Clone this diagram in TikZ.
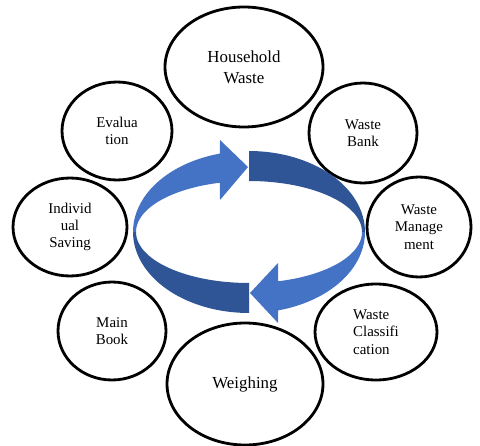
\documentclass[tikz,border=0pt]{standalone}
\usepackage{fontspec}
\setmainfont{Liberation Serif}
\usetikzlibrary{shapes.geometric}
\definecolor{ringlight}{RGB}{68,114,196}
\definecolor{ringdark}{RGB}{47,85,151}
\tikzset{
	bubble/.style={draw, ellipse, line width=1.6pt, inner sep=0pt, align=center,
			font=\fontsize{8.5}{9.8}\selectfont},
	bigbubble/.style={bubble, font=\fontsize{9.6}{12}\selectfont}
}
\begin{document}
\begin{tikzpicture}[x=0.02cm,y=-0.02cm]
		\useasboundingbox (0,0) rectangle (480,446);
		\node[bigbubble, minimum width=3.16cm, minimum height=2.4cm] (household) at (244,67) {Household\\Waste};
		\node[bubble, minimum width=2.16cm, minimum height=2cm] (bank) at (363,133) {Waste\\Bank};
		\node[bubble, minimum width=2.08cm, minimum height=2cm] (management) at (419,227) {Waste\\Manage\\ment};
		\node[bubble, align=left, minimum width=2.44cm, minimum height=1.92cm] (classification) at (376,332) {Waste\\Classifi\\cation};
		\node[bigbubble, minimum width=3.12cm, minimum height=2.44cm] (weighing) at (245,384) {Weighing};
		\node[bubble, minimum width=2.16cm, minimum height=1.96cm] (mainbook) at (112,331) {Main\\Book};
		\node[bubble, minimum width=2.28cm, minimum height=1.96cm] (saving) at (70,227) {Individ\\ual\\Saving};
		\node[bubble, minimum width=2.2cm, minimum height=1.96cm] (evaluation) at (117,131) {Evalua\\tion};
		\fill[ringdark] plot[domain=90:0, samples=40] ({249+116*cos(\x)},{232-81*sin(\x)})
			-- plot[domain=0:90, samples=40] ({249+113*cos(\x)},{232-51*sin(\x)}) -- cycle;
		\fill[ringdark] plot[domain=180:270, samples=40] ({249+116*cos(\x)},{232-81*sin(\x)})
			-- plot[domain=270:180, samples=40] ({249+113*cos(\x)},{232-51*sin(\x)}) -- cycle;
		\fill[ringlight] plot[domain=180:104.5, samples=40] ({249+116*cos(\x)},{232-81*sin(\x)})
			-- (220,140) -- (248,167) -- (220,200)
			-- plot[domain=104.9:180, samples=40] ({249+113*cos(\x)},{232-51*sin(\x)}) -- cycle;
		\fill[ringlight] plot[domain=0:-75.5, samples=40] ({249+116*cos(\x)},{232-81*sin(\x)})
			-- (278,323) -- (250,293) -- (278,263)
			-- plot[domain=-75.1:0, samples=40] ({249+113*cos(\x)},{232-51*sin(\x)}) -- cycle;
	\end{tikzpicture}
\end{document}
